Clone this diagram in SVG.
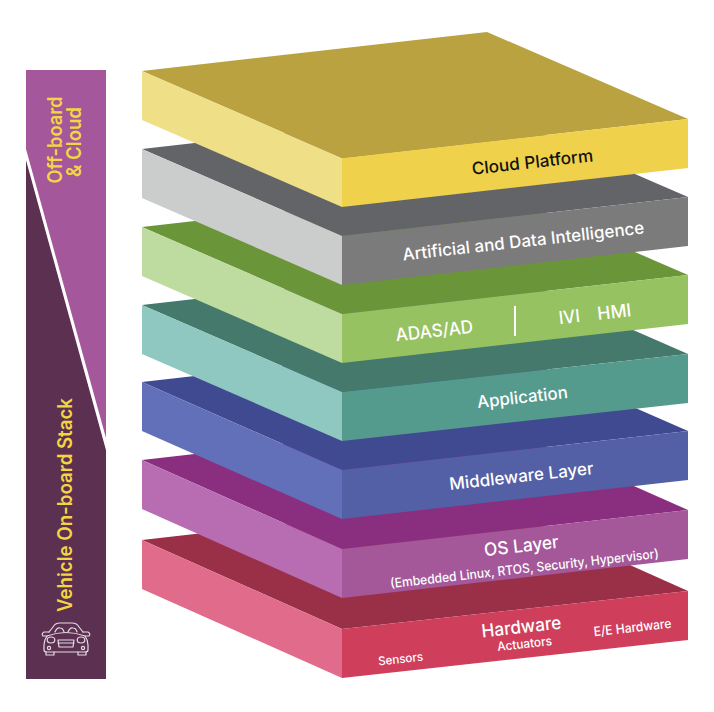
<svg xmlns="http://www.w3.org/2000/svg" width="714" height="712" viewBox="0 0 714 712">
<style>
text{font-family:"Inter","Liberation Sans",sans-serif;text-anchor:middle;fill:#fff;font-weight:500}
.side{fill:#f2d544;font-weight:600;font-size:20px}
.car{fill:none;stroke:#e6dbe4;stroke-width:1.2;stroke-linejoin:round;stroke-linecap:round}
</style>
<rect width="714" height="712" fill="#fff"/>
<g id="side-bar">
<rect x="26" y="70" width="80" height="609" fill="#a4579a"/>
<polygon points="26,160 106,450 106,679 26,679" fill="#5b3050"/>
<polygon points="26,149 106,438 106,450 26,160" fill="#fff"/>
<text class="side" transform="translate(62,140) rotate(-90)" textLength="87" lengthAdjust="spacingAndGlyphs">Off-board</text>
<text class="side" transform="translate(81,142) rotate(-90)" textLength="70" lengthAdjust="spacingAndGlyphs">&amp; Cloud</text>
<text class="side" transform="translate(72,505) rotate(-90)" textLength="214" lengthAdjust="spacingAndGlyphs">Vehicle On-board Stack</text>
<g id="car-icon" class="car">
<path d="M49,632 L53,627 Q55,623 60,623 L72,623 Q77,623 79,627 L83,632"/>
<path d="M49,632 L44,632 Q41,634 43,636 L47,636 M83,632 L88,632 Q91,634 89,636 L85,636"/>
<path d="M47,636 Q44,640 44,645 L44,650 Q44,652 47,652 L85,652 Q88,652 88,650 L88,645 Q88,640 85,636 Q66,629 47,636Z"/>
<path d="M46,652 L46,655 L54,655 L54,652 M78,652 L78,655 L86,655 L86,652"/>
<path d="M55,632 Q57,627 60,628 Q63,628 64,632 M68,632 Q70,627 73,628 Q76,628 77,632"/>
<ellipse cx="51" cy="640" rx="3.8" ry="3"/><ellipse cx="81" cy="640" rx="3.8" ry="3"/>
<circle cx="49" cy="648" r="1.6"/><circle cx="83" cy="648" r="1.6"/>
<path d="M58,640 L74,640 L73,647 L59,647Z M58,643 H74"/>
</g>
</g>
<g id="layer-hardware">
<polygon points="142,540 487,501 688,591 342,629" fill="#9a3048"/>
<polygon points="142,540 342,629 342,678 142,589" fill="#e06b8b"/>
<polygon points="342,629 688,591 688,640 342,678" fill="#cf3f5c"/>
<text transform="translate(522,633) rotate(-6.4)" font-size="18" textLength="80" lengthAdjust="spacingAndGlyphs">Hardware</text>
<text transform="translate(525,648) rotate(-6.4)" font-size="12.5" textLength="55" lengthAdjust="spacingAndGlyphs">Actuators</text>
<text transform="translate(401,663) rotate(-6.4)" font-size="12" textLength="45" lengthAdjust="spacingAndGlyphs">Sensors</text>
<text transform="translate(633,632) rotate(-6.4)" font-size="13" textLength="78" lengthAdjust="spacingAndGlyphs">E/E Hardware</text>
</g>
<g id="layer-os">
<polygon points="142,460 487,421 688,510 342,549" fill="#8a2f7f"/>
<polygon points="142,460 342,549 342,598 142,509" fill="#b86db3"/>
<polygon points="342,549 688,510 688,559 342,598" fill="#a4589a"/>
<text transform="translate(522,552) rotate(-6.4)" font-size="18" textLength="75" lengthAdjust="spacingAndGlyphs">OS Layer</text>
<text transform="translate(525,573) rotate(-6.4)" font-size="13" textLength="270" lengthAdjust="spacingAndGlyphs">(Embedded Linux, RTOS, Security, Hypervisor)</text>
</g>
<g id="layer-middleware">
<polygon points="142,382 487,343 688,431 342,470" fill="#3f4a91"/>
<polygon points="142,382 342,470 342,519 142,431" fill="#6170b8"/>
<polygon points="342,470 688,431 688,480 342,519" fill="#5360a6"/>
<text transform="translate(522,482) rotate(-6.4)" font-size="17" textLength="145" lengthAdjust="spacingAndGlyphs">Middleware Layer</text>
</g>
<g id="layer-application">
<polygon points="142,305 487,266 688,354 342,392" fill="#44796c"/>
<polygon points="142,305 342,392 342,441 142,354" fill="#8ec8c0"/>
<polygon points="342,392 688,354 688,403 342,441" fill="#559b8d"/>
<text transform="translate(523,403) rotate(-6.4)" font-size="17" textLength="91" lengthAdjust="spacingAndGlyphs">Application</text>
</g>
<g id="layer-adas">
<polygon points="142,227 487,188 688,275 342,314" fill="#6b9539"/>
<polygon points="142,227 342,314 342,363 142,276" fill="#bedba0"/>
<polygon points="342,314 688,275 688,324 342,363" fill="#96c262"/>
<text transform="translate(435,337) rotate(-6.4)" font-size="18" textLength="78" lengthAdjust="spacingAndGlyphs">ADAS/AD</text>
<line x1="515" y1="306" x2="515" y2="336" stroke="#fff" stroke-width="2"/>
<text transform="translate(570,323) rotate(-6.4)" font-size="18" textLength="21" lengthAdjust="spacingAndGlyphs">IVI</text>
<text transform="translate(615,318) rotate(-6.4)" font-size="18" textLength="34" lengthAdjust="spacingAndGlyphs">HMI</text>
</g>
<g id="layer-ai">
<polygon points="142,149 487,110 688,197 342,236" fill="#636467"/>
<polygon points="142,149 342,236 342,285 142,198" fill="#cbcccc"/>
<polygon points="342,236 688,197 688,246 342,285" fill="#7b7b7c"/>
<text transform="translate(524,247) rotate(-6.4)" font-size="17" textLength="243" lengthAdjust="spacingAndGlyphs">Artificial and Data Intelligence</text>
</g>
<g id="layer-cloud">
<polygon points="142,71 487,32 688,119 342,158" fill="#b9a23f"/>
<polygon points="142,71 342,158 342,207 142,120" fill="#efdf87"/>
<polygon points="342,158 688,119 688,168 342,207" fill="#efd14b"/>
<text transform="translate(533,168) rotate(-6.4)" font-size="17" textLength="122" lengthAdjust="spacingAndGlyphs" style="fill:#111">Cloud Platform</text>
</g>
</svg>
